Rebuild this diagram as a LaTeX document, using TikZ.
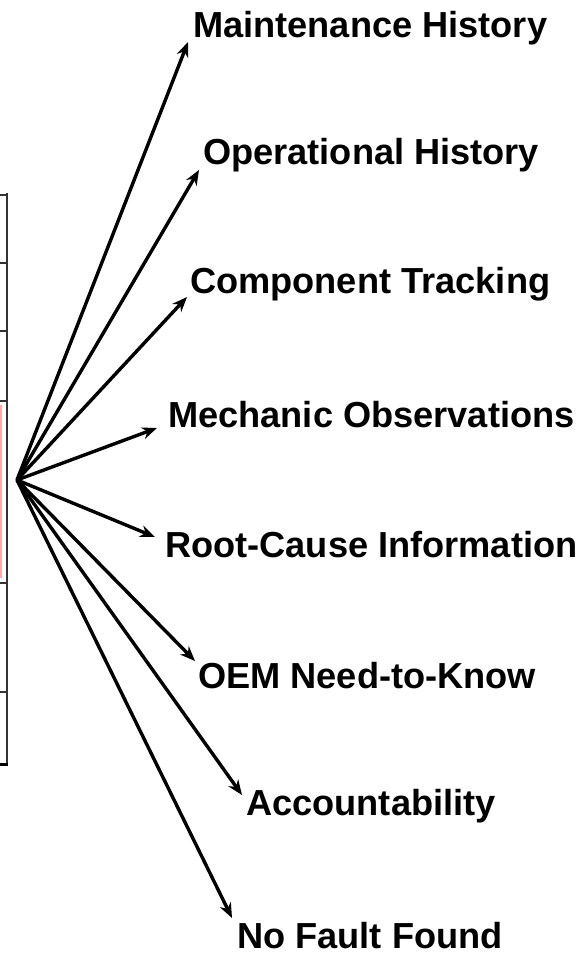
\documentclass[tikz,border=0pt]{standalone}
\usepackage{fontspec}
\setmainfont{Liberation Sans}
\usetikzlibrary{arrows.meta}
\begin{document}
\begin{tikzpicture}[x=1pt,y=-1pt,
  label/.style={font=\bfseries\fontsize{36.2}{42}\selectfont, anchor=west, inner sep=0pt, text=black},
  fan/.style={line width=3.4pt, -{Stealth[length=15pt,width=12pt]}},
  rule/.style={line width=1.8pt, draw=black!80}]
\useasboundingbox (0,0) rectangle (582,956);
\fill[white] (0,0) rectangle (582,956);

% edge of the table on the left
\draw[rule] (7,193) -- (7,765);
\foreach \yy in {195,263,331,401,583,692} \draw[rule] (0,\yy) -- (7,\yy);
\draw[line width=3pt] (0,764) -- (8,764);
\draw[line width=1.5pt, draw={rgb,255:red,255;green,170;blue,170}] (1,405) -- (1,578);

% labels
\node[label] (mh) at (193,28) {Maintenance History};
\node[label] (oh) at (203,155) {Operational History};
\node[label] (ct) at (190,284) {Component Tracking};
\node[label] (mo) at (168,415) {Mechanic Observations};
\node[label] (rc) at (165,545) {Root-Cause Information};
\node[label] (oem) at (198,676) {OEM Need-to-Know};
\node[label] (acc) at (246,806) {Accountability};
\node[label] (nff) at (237,936) {No Fault Found};

% arrow tips
\coordinate (hub) at (17,480);
\coordinate (tmh) at (188,42);
\coordinate (toh) at (199,170);
\coordinate (tct) at (187,297);
\coordinate (tmo) at (157,428);
\coordinate (trc) at (155,537);
\coordinate (toem) at (195,661);
\coordinate (tacc) at (242,795);
\coordinate (tnff) at (232,918);

\foreach \t in {tmh,toh,tct,tmo,trc,toem,tacc,tnff}
  \draw[fan] (hub) -- (\t);
\end{tikzpicture}
\end{document}
